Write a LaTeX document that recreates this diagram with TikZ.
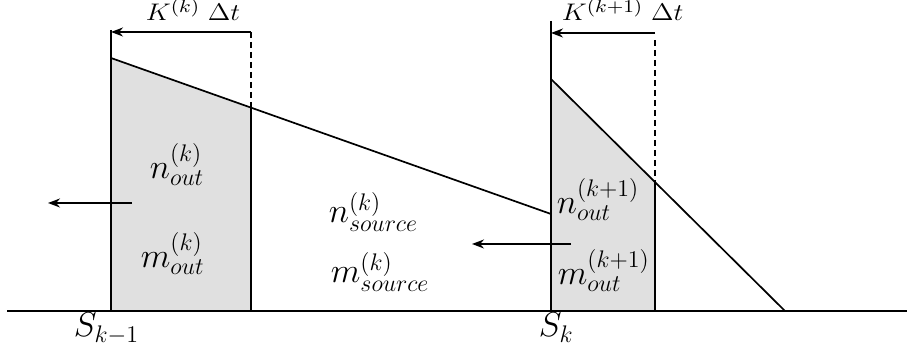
\documentclass[tikz,border=0pt]{standalone}
\usetikzlibrary{arrows.meta}
\usepackage{graphicx}
\begin{document}
\begin{tikzpicture}[x=0.5pt,y=-0.5pt,line width=0.85pt,
  arr/.style={-{Stealth[length=6pt,width=4.5pt]}},
  toplbl/.style={inner sep=0pt,anchor=base west,font=\fontsize{12.5}{15}\selectfont},
  big/.style={inner sep=0pt,anchor=base west,font=\fontsize{18}{21}\selectfont},
  slbl/.style={inner sep=0pt,anchor=base west,font=\fontsize{17}{20}\selectfont}]
\useasboundingbox (0,0) rectangle (907,351);
% coordinates
\coordinate (b0) at (7,311);
\coordinate (b1) at (907,311);
\coordinate (l0) at (111,311);
\coordinate (ltop) at (111,30);
\coordinate (lhi) at (111,58);
\coordinate (lmid) at (251,107.5);
\coordinate (lbot) at (251,311);
\coordinate (lend) at (551,214);
\coordinate (r0) at (551,311);
\coordinate (rtop) at (551,21);
\coordinate (rhi) at (551,79);
\coordinate (rmid) at (655,182);
\coordinate (rbot) at (655,311);
\coordinate (rend) at (785,311);
\coordinate (ld) at (251,32);
\coordinate (la) at (111,32);
\coordinate (rd) at (655,33);
\coordinate (rds) at (655,40);
\coordinate (ra) at (551,33);
\coordinate (a1s) at (132,203);
\coordinate (a1e) at (48,203);
\coordinate (a2s) at (571,244);
\coordinate (a2e) at (472,244);
% shaded regions
\fill[black!12] (l0) -- (lhi) -- (lmid) -- (lbot) -- cycle;
\fill[black!12] (r0) -- (rhi) -- (rmid) -- (rbot) -- cycle;
\draw[line width=0.7pt] (lmid) -- (lbot);
\draw[line width=0.7pt] (rmid) -- (rbot);
% sloped lines
\draw (lhi) -- (lend);
\draw (rhi) -- (rend);
% verticals
\draw (ltop) -- (l0);
\draw (rtop) -- (r0);
% dashed
\draw[line width=0.6pt,dash pattern=on 3pt off 2pt] (ld) -- (lmid);
\draw[line width=0.6pt,dash pattern=on 3pt off 2pt] (rds) -- (rmid);
% top arrows
\draw[arr] (ld) -- (la);
\draw[arr] (rd) -- (ra);
% side arrows
\draw[arr] (a1s) -- (a1e);
\draw[arr] (a2s) -- (a2e);
% baseline
\draw (b0) -- (b1);
% labels
\node[toplbl] (k1) at (145,21) {\scalebox{1.15}[1]{$K^{(k)}\;\Delta t$}};
\node[toplbl] (k2) at (561,21) {\scalebox{1.15}[1]{$K^{(k+1)}\;\Delta t$}};
\node[big] (n1) at (149,179) {$n_{out}^{(k)}$};
\node[big] (m1) at (140,268) {$m_{out}^{(k)}$};
\node[big] (ns) at (328,223) {$n_{source}^{(k)}$};
\node[big] (ms) at (330,283) {$m_{source}^{(k)}$};
\node[big] (n2) at (556,214) {$n_{out}^{(k+1)}$};
\node[big] (m2) at (557,285) {$m_{out}^{(k+1)}$};
\node[slbl] (s1) at (73,337) {$S_{k-1}$};
\node[slbl] (s2) at (538,337) {$S_{k}$};
\end{tikzpicture}
\end{document}
